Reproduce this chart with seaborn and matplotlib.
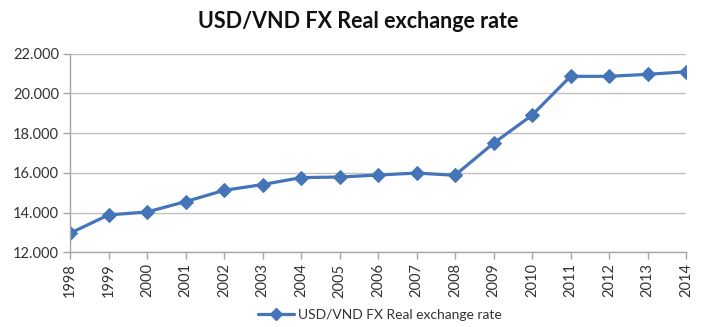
import matplotlib
matplotlib.use("Agg")
import matplotlib.pyplot as plt
import seaborn as sns
import pandas as pd
from matplotlib.lines import Line2D

years = ["1998", "1999", "2000", "2001", "2002", "2003", "2004", "2005", "2006",
         "2007", "2008", "2009", "2010", "2011", "2012", "2013", "2014"]
rate = [12960, 13880, 14030, 14550, 15120, 15410, 15760, 15790, 15890,
        15990, 15880, 17490, 18900, 20860, 20860, 20960, 21090]
series_name = "USD/VND FX Real exchange rate"
ytick_vals = [12000, 14000, 16000, 18000, 20000, 22000]
ytick_labels = ["12.000", "14.000", "16.000", "18.000", "20.000", "22.000"]

sns.set_theme(style="white")
plt.rcParams['font.family'] = ['Lato', 'DejaVu Sans']

df = pd.DataFrame({"pos": range(len(years)), "year": years, "rate": rate, "series": series_name})

fig = plt.figure(figsize=(7.09, 3.27), dpi=100)
ax = fig.add_axes([70/709, 1-252.3/327, (686-70)/709, (252.3-53.7)/327])

blue = "#4475B8"
sns.lineplot(data=df, x="pos", y="rate", hue="series", palette=[blue], marker="D",
             markersize=7, linewidth=2.3, markeredgecolor=blue, ax=ax, legend=False)

ax.set_xlim(0, len(years) - 1)
ax.set_ylim(12000, 22000)
ax.set_yticks(ytick_vals)
ax.set_yticklabels(ytick_labels)
ax.set_xticks(range(len(years)))
ax.set_xticklabels(years, rotation=90)
ax.set_xlabel("")
ax.set_ylabel("")

ax.grid(axis="y", color="#BFBFBF", linewidth=1)
ax.set_axisbelow(True)
for s in ["top", "right"]:
    ax.spines[s].set_visible(False)
for s in ["left", "bottom"]:
    ax.spines[s].set_color("#A6A6A6")
    ax.spines[s].set_linewidth(1)
ax.tick_params(axis="both", which="major", length=5, width=1, color="#A6A6A6",
               labelsize=10.5, labelcolor="#333333", direction="out", pad=3)
ax.tick_params(axis="y", left=True)
ax.tick_params(axis="x", bottom=True)

fig.text(358/709, 1-22/327, "USD/VND FX Real exchange rate", ha="center", va="center",
         fontsize=15.5, fontweight="bold", color="#111111")

h = Line2D([], [], color=blue, marker="D", markersize=6, linewidth=2.3)
fig.legend([h], [series_name], loc="center", bbox_to_anchor=(380/709, 1-315/327),
           frameon=False, fontsize=10, handlelength=2.6, handletextpad=0.3,
           labelcolor="#333333")

fig.savefig("out.png", dpi=100)
